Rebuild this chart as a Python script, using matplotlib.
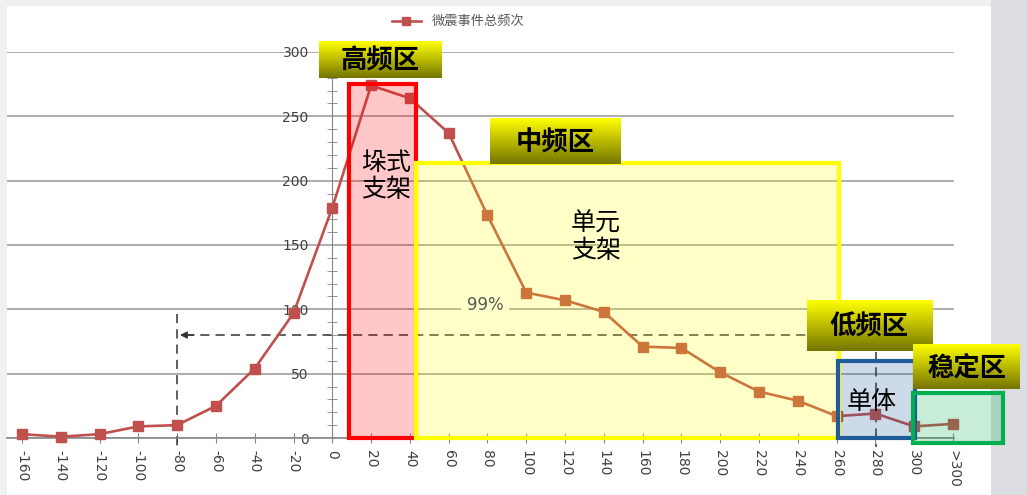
import matplotlib.pyplot as plt
import numpy as np
from matplotlib.colors import LinearSegmentedColormap
from matplotlib.patches import Rectangle
from matplotlib.ticker import MultipleLocator

# data
x_labels = ['-160', '-140', '-120', '-100', '-80', '-60', '-40', '-20', '0', '20', '40', '60',
            '80', '100', '120', '140', '160', '180', '200', '220', '240', '260', '280', '300', '>300']
freq = [3, 1, 3, 9, 10, 25, 54, 97, 179, 274, 264, 237, 173, 113, 107, 98, 71, 70, 51, 36, 29, 17, 19, 9, 11]
series_name = '微震事件总频次'

# zone boxes
zone_names = ['垛式\n支架', '单元\n支架', '单体', '']
zone_x0 = [8.6, 43.1, 260.5, 299.5]
zone_x1 = [43.1, 261.1, 300.4, 345.9]
zone_y0 = [0, 0, 0, -4]
zone_y1 = [275, 213.7, 59.8, 35.2]
zone_edge = ['#FF0000', '#FFFF00', '#1F5C99', '#00B050']
zone_text_xy = [(28, 203), (136, 156), (278, 28), None]

# banner labels
banner_text = ['高频区', '中频区', '低频区', '稳定区']
banner_x0 = [-6.9, 81.3, 244.5, 299.5]
banner_x1 = [56.0, 148.8, 309.0, 354.5]
banner_y0 = [279.8, 212.9, 67.9, 37.8]
banner_y1 = [308.5, 247.9, 107.3, 72.3]

cjk = ['Noto Sans CJK SC', 'DejaVu Sans']

W, H = 1027, 495
fig = plt.figure(figsize=(W / 100, H / 100), dpi=100, facecolor='#EFF0F2')
fig.patches.append(Rectangle((7 / W, 0), (991 - 7) / W, (H - 6) / H, transform=fig.transFigure,
                             facecolor='white', edgecolor='none', zorder=-5))
fig.patches.append(Rectangle((991 / W, 0), (W - 991) / W, 1, transform=fig.transFigure,
                             facecolor='#DCDDE1', edgecolor='none', zorder=-5))

ax = fig.add_axes([7 / W, (H - 438) / H, (954 - 7) / W, (438 - 52) / H])
ax.set_facecolor('none')

x_pos = np.arange(len(x_labels)) * 20 - 160
line, = ax.plot(x_pos, freq, color='#C0504D', lw=1.9, marker='s', markersize=7,
                label=series_name, zorder=3, clip_on=False)

# dashed guide lines
dash = dict(color='#333333', lw=1.1, ls=(0, (6, 4)), zorder=2, clip_on=False)
ax.plot([-80, -80], [96, -8], **dash)
ax.plot([280.5, 280.5], [67, -7], **dash)
ax.plot([-76, 258], [80, 80], **dash)
ax.annotate('', xy=(-80, 80), xytext=(-70, 80),
            arrowprops=dict(arrowstyle='-|>', color='#333333', lw=1.1, mutation_scale=10), zorder=2)

# zone rectangles
for i in range(len(zone_names)):
    ax.add_patch(Rectangle((zone_x0[i], zone_y0[i]), zone_x1[i] - zone_x0[i], zone_y1[i] - zone_y0[i],
                           facecolor=zone_edge[i], alpha=0.22, edgecolor='none', zorder=4, clip_on=False))
    ax.add_patch(Rectangle((zone_x0[i], zone_y0[i]), zone_x1[i] - zone_x0[i], zone_y1[i] - zone_y0[i],
                           facecolor='none', edgecolor=zone_edge[i], lw=3, zorder=5, clip_on=False))
    if zone_text_xy[i] is not None:
        ax.text(*zone_text_xy[i], zone_names[i], family=cjk, fontsize=18, ha='center', va='center',
                color='black', zorder=6, linespacing=1.05)

ax.text(78.7, 103, '99%', fontsize=12, color='#595959', ha='center', va='center', zorder=6,
        bbox=dict(facecolor='#FFFFC9', edgecolor='none', pad=4))

# banner labels with yellow-to-olive gradient
cmap = LinearSegmentedColormap.from_list('ban', ['#757500', '#FFFF00'])
grad = np.linspace(0, 1, 64).reshape(-1, 1)
for i in range(len(banner_text)):
    ax.imshow(grad, extent=[banner_x0[i], banner_x1[i], banner_y0[i], banner_y1[i]], origin='lower',
              cmap=cmap, aspect='auto', zorder=7, clip_on=False)
    ax.text((banner_x0[i] + banner_x1[i]) / 2, (banner_y0[i] + banner_y1[i]) / 2 - 1, banner_text[i],
            family=cjk, fontsize=19, fontweight='bold', ha='center', va='center', color='black', zorder=8)

ax.set_xlim(-167.7, 320.5)
ax.set_ylim(0, 300)

# axes styling
for s in ['top', 'right']:
    ax.spines[s].set_visible(False)
ax.spines['left'].set_position(('data', 0))
ax.spines['left'].set_color('#868686')
ax.spines['bottom'].set_color('#868686')
ax.spines['bottom'].set_linewidth(1.2)

ax.set_yticks([0, 50, 100, 150, 200, 250, 300])
ax.yaxis.set_minor_locator(MultipleLocator(10))
ax.tick_params(axis='y', which='major', length=0, pad=17, labelsize=10, labelcolor='#404040')
ax.tick_params(axis='y', which='minor', length=7, direction='inout', color='#868686')
ax.grid(axis='y', color='#A6A6A6', lw=1.3, zorder=1)

ax.set_xticks(x_pos)
ax.set_xticklabels(x_labels, rotation=-90)
ax.tick_params(axis='x', length=7, direction='inout', color='#868686', pad=5,
               labelsize=10, labelcolor='#404040')

leg = fig.legend(handles=[line], loc='center', bbox_to_anchor=(0.446, 0.956), frameon=False,
                 prop={'family': cjk, 'size': 9.5}, handlelength=2.2, markerscale=0.9)
for t in leg.get_texts():
    t.set_color('#595959')

fig.savefig('out.png', dpi=100, facecolor=fig.get_facecolor())
